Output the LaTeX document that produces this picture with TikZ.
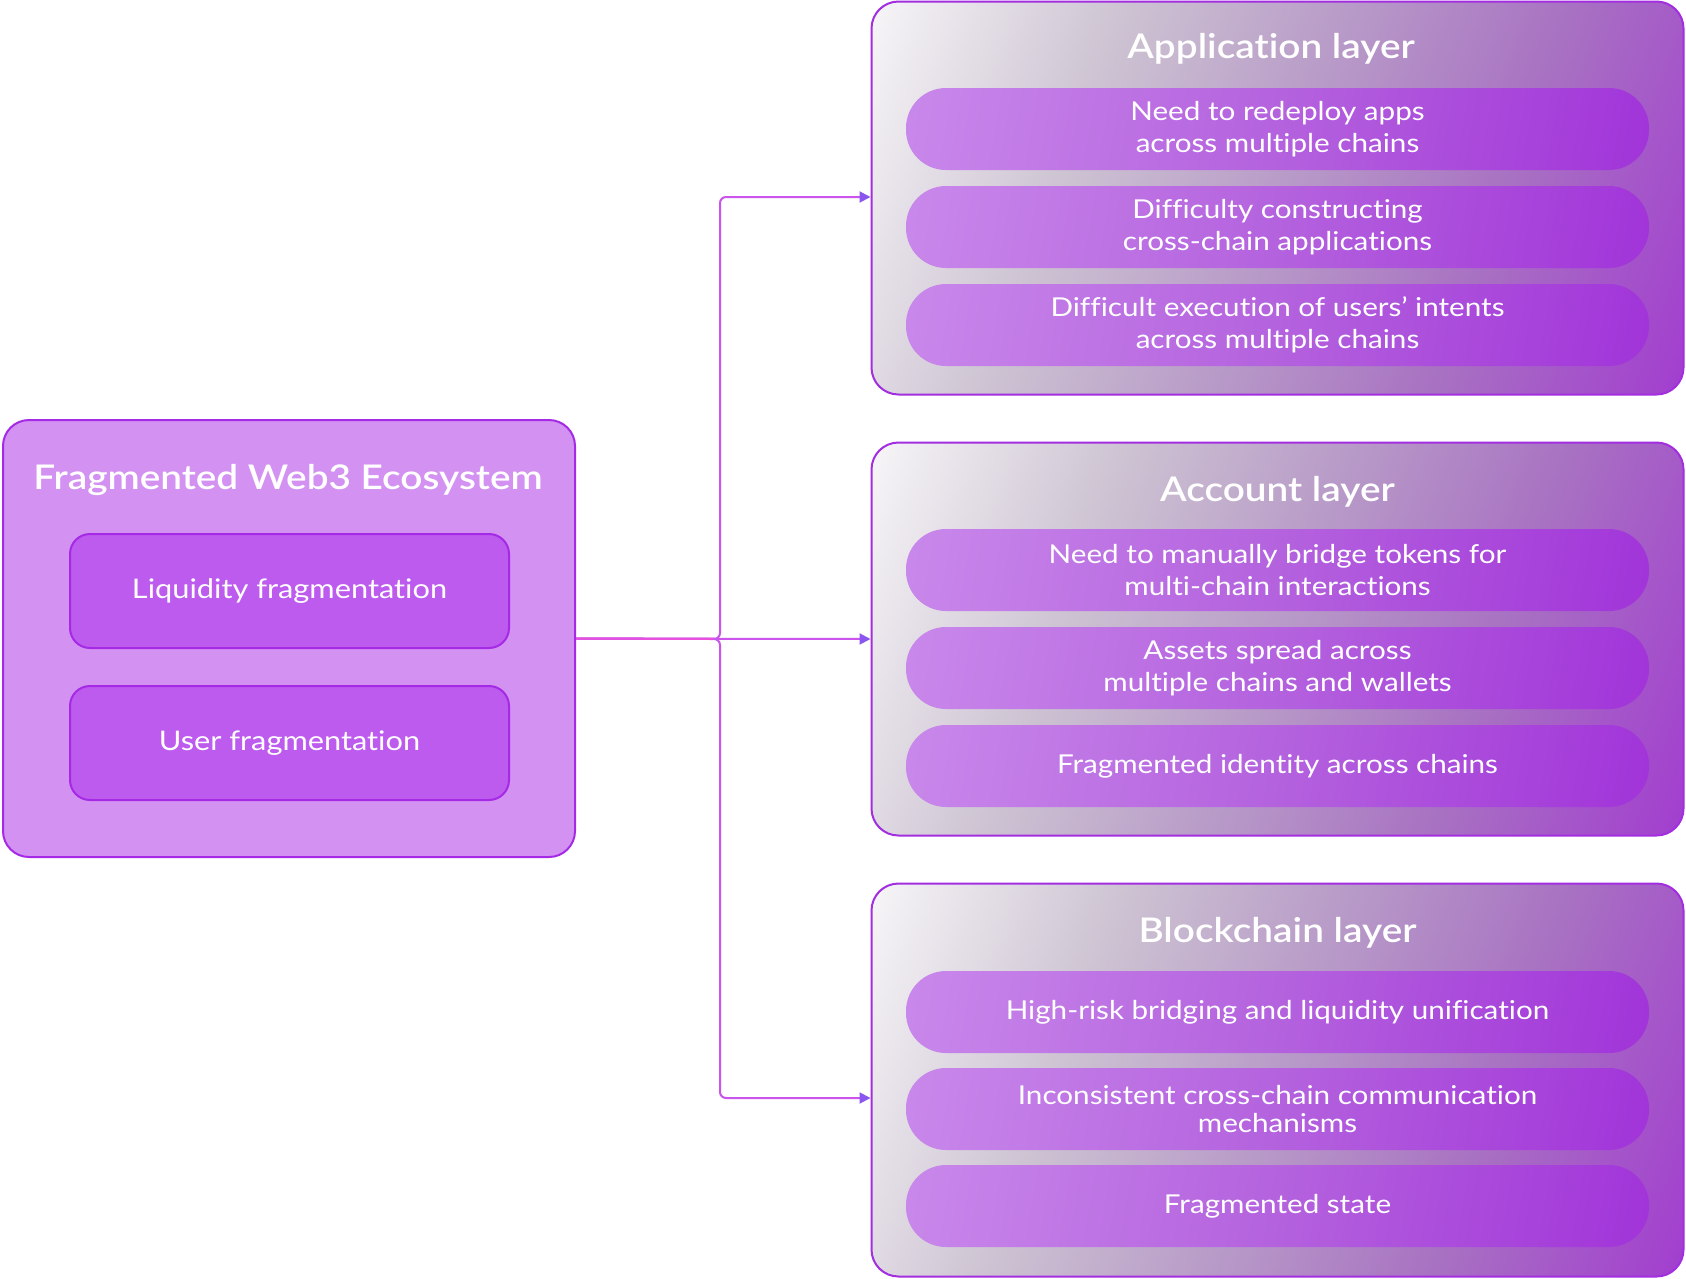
\documentclass[tikz,border=0pt]{standalone}
\usepackage{fontspec}
\setmainfont[FakeStretch=1.14,Ligatures=NoCommon]{Lato}
\IfFontExistsTF{Lato Semibold}{%
  \newfontfamily\titlefont[FakeStretch=1.14,Ligatures=NoCommon]{Lato Semibold}}{%
  \newfontfamily\titlefontbase[FakeStretch=1.14,Ligatures=NoCommon]{Lato}%
  \newcommand\titlefont{\titlefontbase\bfseries}}
\usetikzlibrary{arrows.meta}
\definecolor{leftfill}{HTML}{D391F2}
\definecolor{leftborder}{HTML}{A52AE6}
\definecolor{innerfill}{HTML}{BE5BEF}
\definecolor{layerborder}{HTML}{A22EE0}
\definecolor{layerA}{HTML}{F6F5F7}
\definecolor{layerB}{HTML}{CDC3D2}
\definecolor{layerC}{HTML}{B89BC8}
\definecolor{layerD}{HTML}{A872C2}
\definecolor{layerE}{HTML}{A23ECF}
\definecolor{pillA}{HTML}{C988EB}
\definecolor{pillB}{HTML}{B462DE}
\definecolor{pillC}{HTML}{A134D9}
\definecolor{linec}{HTML}{CB55EC}
\definecolor{stemc}{HTML}{E84FDC}
\definecolor{tipc}{HTML}{8A56EF}
\pgfdeclarehorizontalshading{layershade}{100bp}{color(0bp)=(layerA); color(18bp)=(layerA);
  color(35bp)=(layerB); color(50bp)=(layerC); color(65bp)=(layerD); color(82bp)=(layerE); color(100bp)=(layerE)}
\pgfdeclarehorizontalshading{pillshade}{100bp}{color(0bp)=(pillA); color(21bp)=(pillA);
  color(50bp)=(pillB); color(79bp)=(pillC); color(100bp)=(pillC)}
\tikzset{
  outerbox/.style={draw=leftborder, line width=2pt, fill=leftfill, rounded corners=26pt,
    minimum width=572pt, minimum height=437pt, inner sep=0pt},
  innerbox/.style={draw=leftborder, line width=2pt, fill=innerfill, rounded corners=20pt,
    minimum width=439pt, minimum height=114pt, inner sep=0pt, text=white,
    font=\fontsize{27}{32}\selectfont},
  layerbox/.style={draw=layerborder, line width=2pt, rounded corners=27pt,
    shading=layershade, shading angle=-20,
    minimum width=812pt, minimum height=393pt, inner sep=0pt},
  pill/.style={rounded corners=40pt, shading=pillshade, shading angle=-10,
    minimum width=743pt, minimum height=82pt, inner sep=0pt, text=white, align=center,
    font=\fontsize{26}{32}\selectfont},
  titletext/.style={text=white, inner sep=0pt, font=\fontsize{34}{40}\selectfont\titlefont},
  conn/.style={draw=linec, line width=2pt, rounded corners=6pt,
    -{Triangle[length=11pt,width=11pt,color=tipc]}},
  stem/.style={draw=stemc, line width=2pt}
}
\begin{document}
\begin{tikzpicture}[x=1pt,y=-1pt]
\fill[white] (0,0) rectangle (1686,1278);
\useasboundingbox (0,0) rectangle (1686,1278);

% left box
\node[outerbox] (src) at (289,638.5) {};
\node[titletext] (srct) at (288,480) {Fragmented Web3 Ecosystem};
\node[innerbox] (liq) at (289.5,591) {\raisebox{-3pt}{Liquidity fragmentation}};
\node[innerbox] (usr) at (289.5,743) {\raisebox{-3pt}{User fragmentation}};

% layer boxes
\node[layerbox] (app) at (1277.5,198) {};
\node[layerbox] (acc) at (1277.5,639) {};
\node[layerbox] (blk) at (1277.5,1080) {};

\node[titletext] (appt) at (1271,49) {Application layer};
\node[titletext] (acct) at (1277.5,492) {Account layer};
\node[titletext] (blkt) at (1277.5,933) {Blockchain layer};

\node[pill] (a1) at (1277.5,129) {Need to redeploy apps\\across multiple chains};
\node[pill] (a2) at (1277.5,227) {Difficulty constructing\\cross-chain applications};
\node[pill] (a3) at (1277.5,325) {Difficult execution of users’ intents\\across multiple chains};

\node[pill] (c1) at (1277.5,570) {Need to manually bridge tokens for\\multi-chain interactions};
\node[pill] (c2) at (1277.5,668) {Assets spread across\\multiple chains and wallets};
\node[pill] (c3) at (1277.5,766) {Fragmented identity across chains};

\node[pill] (b1) at (1277.5,1012) {High-risk bridging and liquidity unification};
\node[pill, font=\fontsize{26}{28}\selectfont] (b2) at (1277.5,1109) {Inconsistent cross-chain communication\\mechanisms};
\node[pill] (b3) at (1277.5,1206) {Fragmented state};

% connectors
\coordinate (jn) at (720,639);
\draw[conn] (src.east) -- (jn) |- ([yshift=1pt]app.west);
\draw[conn] (src.east) -- (acc.west);
\draw[conn] (src.east) -- (jn) |- ([yshift=-18pt]blk.west);
\draw[stem] (src.east) -- ([xshift=-7pt]jn);
\end{tikzpicture}
\end{document}
